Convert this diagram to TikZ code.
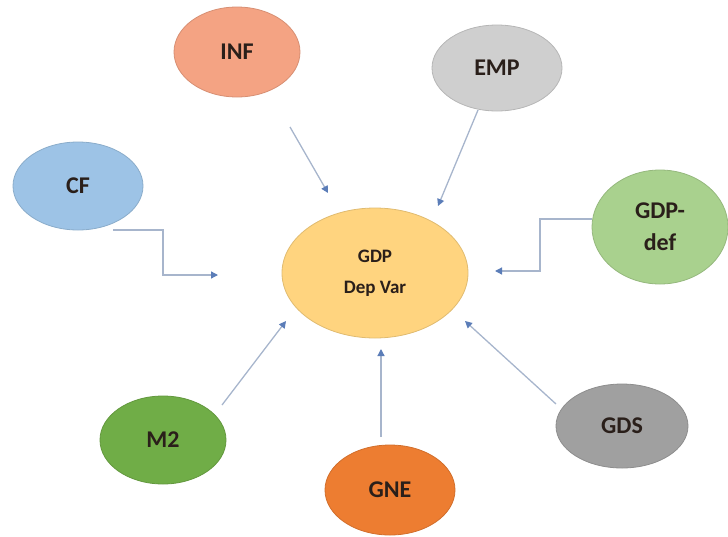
\documentclass[tikz,border=0pt]{standalone}
\usepackage{fontspec}
\setmainfont{Carlito}
\usetikzlibrary{shapes.geometric,arrows.meta}
\definecolor{cinf}{HTML}{F4A383}
\definecolor{cemp}{HTML}{CFCFCF}
\definecolor{ccf}{HTML}{9DC3E6}
\definecolor{cgdp}{HTML}{FFD47F}
\definecolor{cdef}{HTML}{A9D18E}
\definecolor{cmtwo}{HTML}{70AD47}
\definecolor{cgne}{HTML}{ED7D31}
\definecolor{cgds}{HTML}{A0A0A0}
\definecolor{cline}{HTML}{A7B5CC}
\definecolor{chead}{HTML}{5B7DB8}
\definecolor{ctext}{HTML}{2A1F1A}
\begin{document}
\begin{tikzpicture}[x=1pt,y=-1pt,
  bubble/.style={ellipse,draw=#1!88!black,fill=#1,line width=0.8pt,inner sep=0pt,
    text=ctext,font=\bfseries\fontsize{24}{26}\selectfont},
  conn/.style={draw=cline,line width=1.3pt,-{Triangle[length=7pt,width=7pt,fill=chead,color=chead]}}]
\useasboundingbox (0,0) rectangle (728,536);
\node[bubble=cinf,minimum width=126,minimum height=90] (inf) at (237,52) {INF};
\node[bubble=cemp,minimum width=130,minimum height=86] (emp) at (497,68) {EMP};
\node[bubble=ccf,minimum width=130,minimum height=88] (cf) at (78,186) {CF};
\node[bubble=cgdp,minimum width=186,minimum height=130,font=\bfseries\fontsize{19}{21}\selectfont,align=center] (gdp) at (375,273) {GDP\\[10pt]Dep Var};
\node[bubble=cdef,minimum width=136,minimum height=114,align=center,font=\bfseries\fontsize{24}{32}\selectfont] (def) at (660,227) {GDP-\\def};
\node[bubble=cmtwo,minimum width=126,minimum height=88] (m2) at (163,440) {M2};
\node[bubble=cgne,minimum width=130,minimum height=90] (gne) at (390,490) {GNE};
\node[bubble=cgds,minimum width=132,minimum height=84] (gds) at (622,426) {GDS};
\coordinate (tinf) at (328,193);
\coordinate (temp) at (438,206);
\coordinate (tcf) at (218,275);
\coordinate (tdef) at (495,271);
\coordinate (tm2) at (286,321);
\coordinate (tgne) at (381,349);
\coordinate (tgds) at (465,321);
\draw[conn] (290,127) -- (tinf);
\draw[conn] (478,110) -- (temp);
\draw[conn] (113,230) -- (163,230) -- (163,275) -- (tcf);
\draw[conn] (def.west |- 0,219) -- (540,219) -- (540,271) -- (tdef);
\draw[conn] (222,405) -- (tm2);
\draw[conn] (381,437) -- (tgne);
\draw[conn] (556,404) -- (tgds);
\end{tikzpicture}
\end{document}
